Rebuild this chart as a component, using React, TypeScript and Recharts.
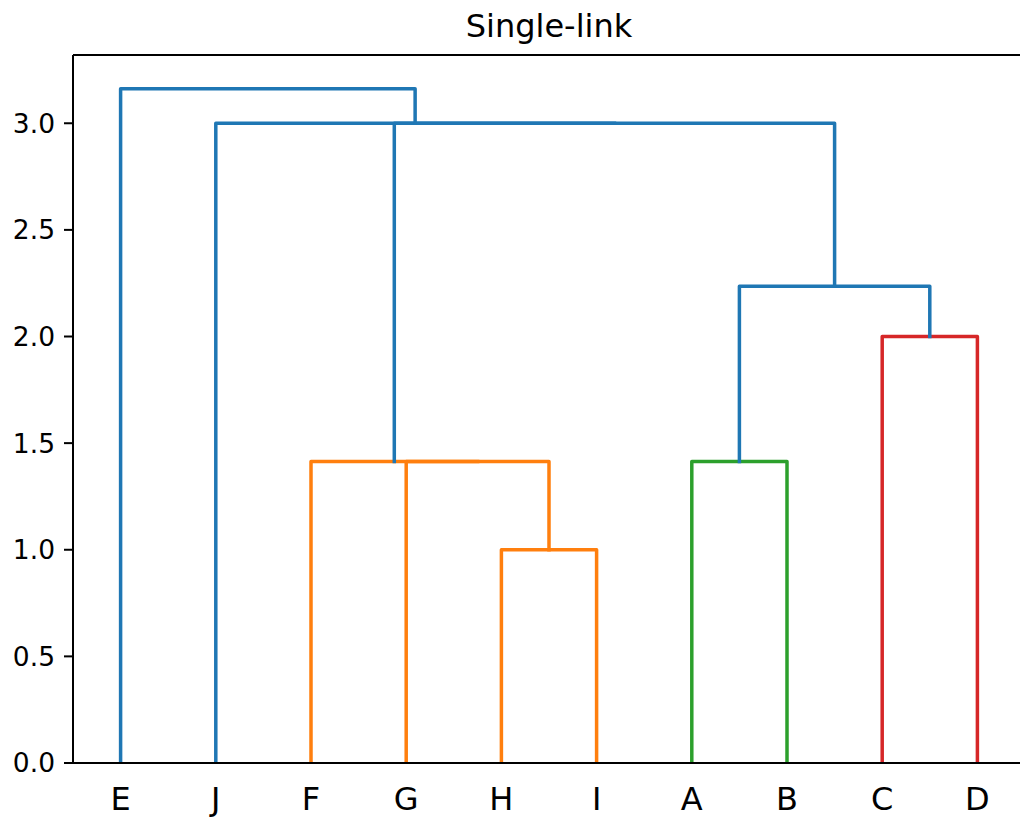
import { LineChart, Line, XAxis, YAxis, ReferenceLine } from 'recharts'

// leaf order along the x axis
const leaves = ['E', 'J', 'F', 'G', 'H', 'I', 'A', 'B', 'C', 'D']

// single-link merges, in order; cluster made by merge k is called `c${k + 1}`
const mergeLeft = ['H', 'G', 'F', 'A', 'C', 'c4', 'c3', 'J', 'E']
const mergeRight = ['I', 'c1', 'c2', 'B', 'D', 'c5', 'c6', 'c7', 'c8']
const mergeHeight = [1.0, 1.414, 1.414, 1.414, 2.0, 2.236, 3.0, 3.0, 3.162]

const yTicks = [0, 0.5, 1.0, 1.5, 2.0, 2.5, 3.0]

const linkColors = [
  '#ff7f0e', '#ff7f0e', '#ff7f0e',
  '#2ca02c',
  '#d62728',
  '#1f77b4', '#1f77b4', '#1f77b4', '#1f77b4'
]

const leafTicks = leaves.map((_, i) => 5 + 10 * i)
const yMax = Math.max(...mergeHeight) * 1.05

// build the U-shaped links the same way scipy does
function buildLinks() {
  const pos: Record<string, { x: number; h: number }> = {}
  leaves.forEach((name, i) => {
    pos[name] = { x: 5 + 10 * i, h: 0 }
  })
  return mergeHeight.map((h, k) => {
    const a = pos[mergeLeft[k]]
    const b = pos[mergeRight[k]]
    pos[`c${k + 1}`] = { x: (a.x + b.x) / 2, h }
    return [
      { x: a.x, y: a.h },
      { x: a.x, y: h },
      { x: b.x, y: h },
      { x: b.x, y: b.h }
    ]
  })
}

const links = buildLinks()
const font = 'DejaVu Sans, sans-serif'

export default function App() {
  return (
    <div
      style={{
        position: 'absolute',
        left: 0,
        top: 0,
        width: 1020,
        height: 818,
        overflow: 'hidden',
        background: '#fff',
        fontFamily: font
      }}
    >
      <div
        style={{
          position: 'absolute',
          left: 73,
          top: 10,
          width: 952,
          textAlign: 'center',
          fontSize: 32,
          lineHeight: '32px',
          color: '#000'
        }}
      >
        Single-link
      </div>
      <LineChart
        width={1040}
        height={818}
        margin={{ top: 55, right: 15, bottom: 5, left: 0 }}
      >
        <XAxis
          type="number"
          dataKey="x"
          domain={[0, 100]}
          allowDataOverflow
          ticks={leafTicks}
          interval={0}
          tickFormatter={(v: number) => leaves[Math.round((v - 5) / 10)]}
          height={50}
          tickLine={false}
          tickSize={0}
          tickMargin={24}
          axisLine={{ stroke: '#000', strokeWidth: 2 }}
          tick={{ fill: '#000', fontSize: 32, fontFamily: font }}
        />
        <YAxis
          type="number"
          domain={[0, yMax]}
          allowDataOverflow
          ticks={yTicks}
          interval={0}
          tickFormatter={(v: number) => v.toFixed(1)}
          width={73}
          tickSize={9}
          tickMargin={9}
          axisLine={{ stroke: '#000', strokeWidth: 2 }}
          tickLine={{ stroke: '#000', strokeWidth: 2 }}
          tick={{ fill: '#000', fontSize: 26.5, fontFamily: font }}
        />
        <ReferenceLine y={yMax} stroke="#000" strokeWidth={2} />
        <ReferenceLine x={100} stroke="#000" strokeWidth={2} />
        {links.map((pts, k) => (
          <Line
            key={k}
            data={pts}
            dataKey="y"
            type="linear"
            stroke={linkColors[k]}
            strokeWidth={3.5}
            strokeLinecap="square"
            strokeLinejoin="round"
            dot={false}
            activeDot={false}
            isAnimationActive={false}
          />
        ))}
      </LineChart>
    </div>
  )
}
